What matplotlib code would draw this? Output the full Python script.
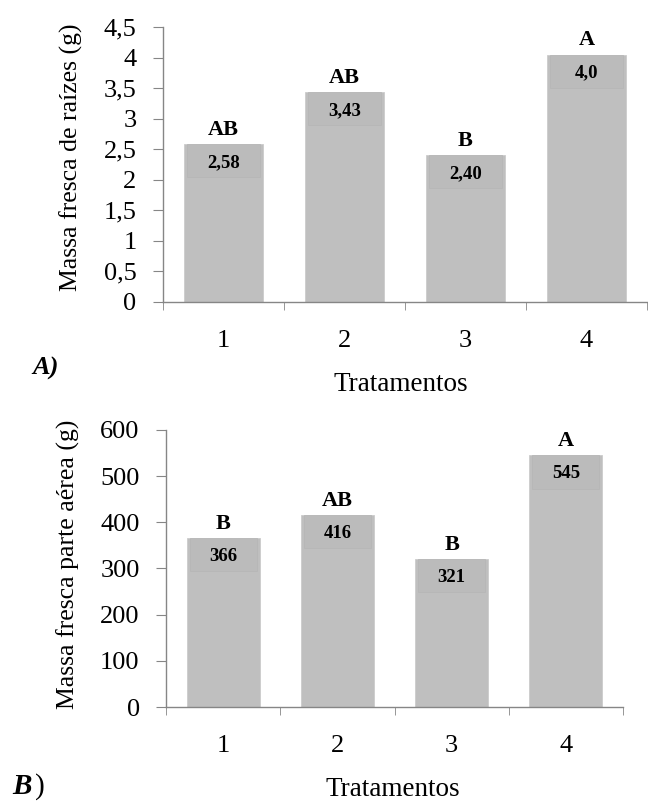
import matplotlib
matplotlib.use('Agg')
import matplotlib.pyplot as plt
import numpy as np

# Panel A: massa fresca de raízes
trat = ['1', '2', '3', '4']
raiz_vals = [2.58, 3.43, 2.40, 4.05]
raiz_txt = ['2,58', '3,43', '2,40', '4,0']
raiz_letras = ['AB', 'AB', 'B', 'A']
raiz_ticks = [0, 0.5, 1, 1.5, 2, 2.5, 3, 3.5, 4, 4.5]
raiz_ticklabels = ['0', '0,5', '1', '1,5', '2', '2,5', '3', '3,5', '4', '4,5']

# Panel B: massa fresca parte aérea
aerea_vals = [366, 416, 321, 545]
aerea_txt = ['366', '416', '321', '545']
aerea_letras = ['B', 'AB', 'B', 'A']
aerea_ticks = [0, 100, 200, 300, 400, 500, 600]

SERIF = 'Liberation Serif'
BAR = '#bfbfbf'
BOX = '#bbbbbb'
AXC = '#868686'

fig = plt.figure(figsize=(6.48, 8.07), dpi=100)
axA = fig.add_axes([0.2515, 0.6258, 0.747, 0.3407])
axB = fig.add_axes([0.2562, 0.1239, 0.7052, 0.3433])


def draw(ax, vals, txt, letras, ticks, ticklabels, ymax, ylabel, width, box_h,
         off_let, ylab_xy, xlab_xy):
    x = np.arange(len(vals))
    ax.bar(x, vals, width=width, color=BAR, edgecolor='#cccccc', linewidth=0.6, zorder=2)
    # slightly darker label boxes at the top of each bar
    tops = np.array(vals)
    ax.bar(x, [box_h] * len(vals), bottom=tops - box_h, width=width * 0.92,
           color=BOX, edgecolor='#b6b6b6', linewidth=0.5, zorder=3)
    for xi, v, t, l in zip(x, vals, txt, letras):
        ax.text(xi, v - box_h * 0.55, t, ha='center', va='center', family=SERIF,
                fontsize=13.5, fontweight='bold', zorder=4)
        ax.text(xi, v + off_let, l, ha='center', va='baseline', family=SERIF,
                fontsize=16, fontweight='bold', zorder=4)
    ax.set_xlim(-0.5, len(vals) - 0.5)
    ax.set_ylim(0, ymax)
    ax.set_yticks(ticks)
    ax.set_yticklabels(ticklabels, family=SERIF, fontsize=19)
    ax.set_xticks(x)
    ax.set_xticklabels(trat, family=SERIF, fontsize=19)
    ax.set_xticks(np.arange(-0.5, len(vals)), minor=True)
    ax.tick_params(axis='x', which='major', length=0, pad=20)
    ax.tick_params(axis='x', which='minor', length=6, color=AXC, direction='out')
    ax.tick_params(axis='y', length=7, color=AXC, direction='out', pad=12)
    for s in ['top', 'right']:
        ax.spines[s].set_visible(False)
    for s in ['left', 'bottom']:
        ax.spines[s].set_color(AXC)
        ax.spines[s].set_linewidth(1.0)
    ax.set_ylabel(ylabel, family=SERIF, fontsize=18.5, va='center')
    ax.yaxis.set_label_coords(*ylab_xy)
    ax.set_xlabel('Tratamentos', family=SERIF, fontsize=19.5, va='center')
    ax.xaxis.set_label_coords(*xlab_xy)


draw(axA, raiz_vals, raiz_txt, raiz_letras, raiz_ticks, raiz_ticklabels, 4.5,
     'Massa fresca de raízes (g)', 0.66, 0.54, 0.15, (-0.19, 0.525), (0.492, -0.3))
draw(axB, aerea_vals, aerea_txt, aerea_letras, aerea_ticks,
     [str(t) for t in aerea_ticks], 600, 'Massa fresca parte aérea (g)', 0.64, 72, 20,
     (-0.213, 0.516), (0.497, -0.297))

fig.text(46 / 648, 1 - 368 / 807, 'A)', family=SERIF, fontsize=19, fontweight='bold',
         style='italic', ha='center', va='center')
fig.text(22 / 648, 1 - 787 / 807, 'B', family=SERIF, fontsize=21, fontweight='bold',
         style='italic', ha='center', va='center')
fig.text(35 / 648, 1 - 787 / 807, ')', family=SERIF, fontsize=21,
         ha='left', va='center')

fig.savefig('out.png', dpi=100, facecolor='white')
